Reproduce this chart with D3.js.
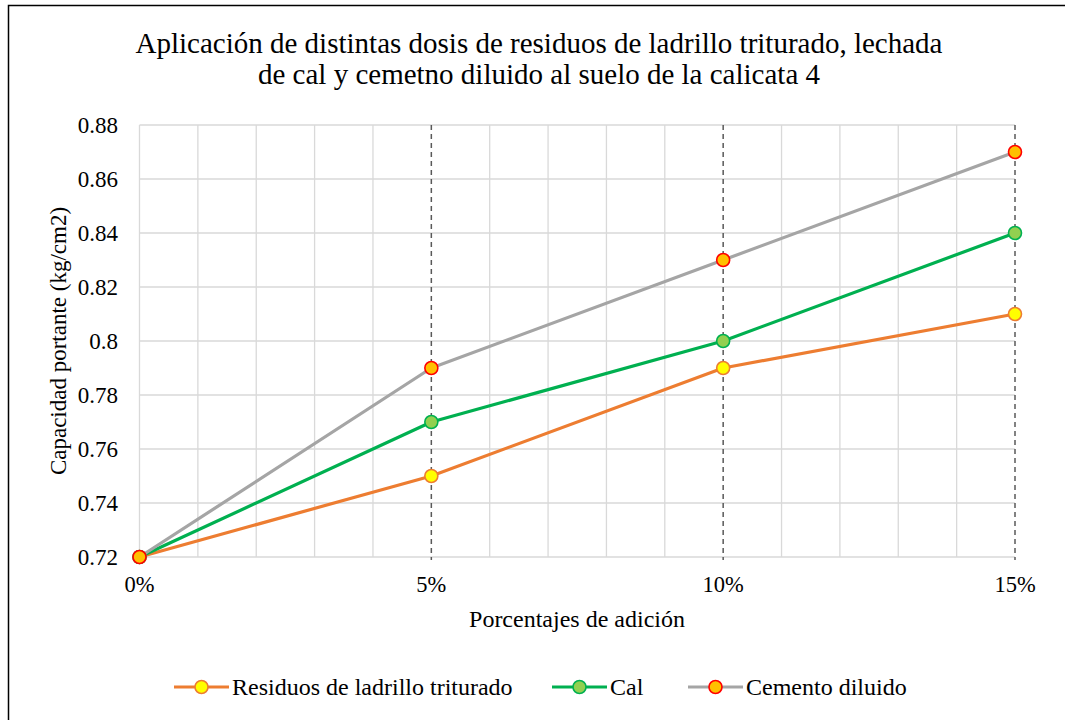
<!DOCTYPE html>
<html><head><meta charset="utf-8">
<script src="https://cdn.jsdelivr.net/npm/d3@7"></script>
<style>body{margin:0;background:#fff;}</style>
</head><body>
<svg id="c" width="1065" height="720" font-family="'Liberation Serif', 'Times New Roman', Times, serif"></svg>
<script>
const categories = [0, 5, 10, 15];
const xTickLabels = ["0%", "5%", "10%", "15%"];
const residuos = [0.72, 0.75, 0.79, 0.81];
const cal = [0.72, 0.77, 0.80, 0.84];
const cemento = [0.72, 0.79, 0.83, 0.87];
const yTicks = [0.72, 0.74, 0.76, 0.78, 0.8, 0.82, 0.84, 0.86, 0.88];
const yTickLabels = ["0.72","0.74","0.76","0.78","0.8","0.82","0.84","0.86","0.88"];
const seriesNames = ["Residuos de ladrillo triturado", "Cal", "Cemento diluido"];

const series = [
  {name: seriesNames[0], values: residuos, line: "#ED7D31", fill: "#FFFF00", stroke: "#ED7D31"},
  {name: seriesNames[1], values: cal, line: "#00B050", fill: "#92D050", stroke: "#00B050"},
  {name: seriesNames[2], values: cemento, line: "#A5A5A5", fill: "#FFC000", stroke: "#FF0000"}
];

const svg = d3.select("#c");
svg.append("rect").attr("x", 8.5).attr("y", 5.5).attr("width", 1100).attr("height", 800)
  .attr("fill", "#fff").attr("stroke", "#000").attr("stroke-width", 1.5);

const x = d3.scaleLinear().domain([0, 15]).range([139.5, 1015]);
const y = d3.scaleLinear().domain([0.72, 0.88]).range([557, 125]);

const vgrid = d3.range(0, 16);
svg.append("g").selectAll("line").data(vgrid.filter(d => d % 5 !== 0 || d === 0)).join("line")
  .attr("x1", d => x(d)).attr("x2", d => x(d)).attr("y1", y(0.72)).attr("y2", y(0.88))
  .attr("stroke", "#D9D9D9").attr("stroke-width", 1.3);
svg.append("g").selectAll("line").data(yTicks).join("line")
  .attr("x1", x(0)).attr("x2", x(15)).attr("y1", d => y(d)).attr("y2", d => y(d))
  .attr("stroke", "#D9D9D9").attr("stroke-width", 1.3);
svg.append("g").selectAll("line").data(categories.slice(1)).join("line")
  .attr("x1", d => x(d)).attr("x2", d => x(d)).attr("y1", y(0.88)).attr("y2", y(0.72) + 3)
  .attr("stroke", "#595959").attr("stroke-width", 1.5).attr("stroke-dasharray", "5,4");

const txt = (sel) => sel.attr("fill", "#000");
svg.append("g").selectAll("text").data(yTicks).join("text")
  .attr("x", 118).attr("y", d => y(d) + 8).attr("text-anchor", "end")
  .attr("font-size", 23).text((d, i) => yTickLabels[i]).call(txt);
svg.append("g").selectAll("text").data(categories).join("text")
  .attr("x", d => x(d)).attr("y", 592).attr("text-anchor", "middle")
  .attr("font-size", 22.5).text((d, i) => xTickLabels[i]).call(txt);

svg.append("text").attr("x", 577).attr("y", 627).attr("text-anchor", "middle").attr("font-size", 24)
  .text("Porcentajes de adición").call(txt);
svg.append("text").attr("transform", "translate(66,341) rotate(-90)").attr("text-anchor", "middle").attr("font-size", 23)
  .text("Capacidad portante (kg/cm2)").call(txt);

svg.append("text").attr("x", 539).attr("y", 53).attr("text-anchor", "middle").attr("font-size", 29)
  .text("Aplicación de distintas dosis de residuos de ladrillo triturado, lechada").call(txt);
svg.append("text").attr("x", 539).attr("y", 84).attr("text-anchor", "middle").attr("font-size", 29)
  .text("de cal y cemetno diluido al suelo de la calicata 4").call(txt);

const lineGen = d3.line().x((d, i) => x(categories[i])).y(d => y(d));
series.forEach(s => {
  svg.append("path").datum(s.values).attr("d", lineGen)
    .attr("fill", "none").attr("stroke", s.line).attr("stroke-width", 3.2).attr("stroke-linejoin", "round");
});
series.forEach(s => {
  svg.append("g").selectAll("circle").data(s.values).join("circle")
    .attr("cx", (d, i) => x(categories[i])).attr("cy", d => y(d)).attr("r", 6.5)
    .attr("fill", s.fill).attr("stroke", s.stroke).attr("stroke-width", 1.6);
});

const legX = [174, 552, 688];
series.forEach((s, i) => {
  const g = svg.append("g").attr("transform", `translate(${legX[i]},687)`);
  g.append("line").attr("x1", 0).attr("x2", 55).attr("y1", 0).attr("y2", 0)
    .attr("stroke", s.line).attr("stroke-width", 3.2);
  g.append("circle").attr("cx", 27.5).attr("cy", 0).attr("r", 6.5)
    .attr("fill", s.fill).attr("stroke", s.stroke).attr("stroke-width", 1.6);
  g.append("text").attr("x", 58).attr("y", 8).attr("font-size", 24).text(s.name).call(txt);
});
</script>
</body></html>
